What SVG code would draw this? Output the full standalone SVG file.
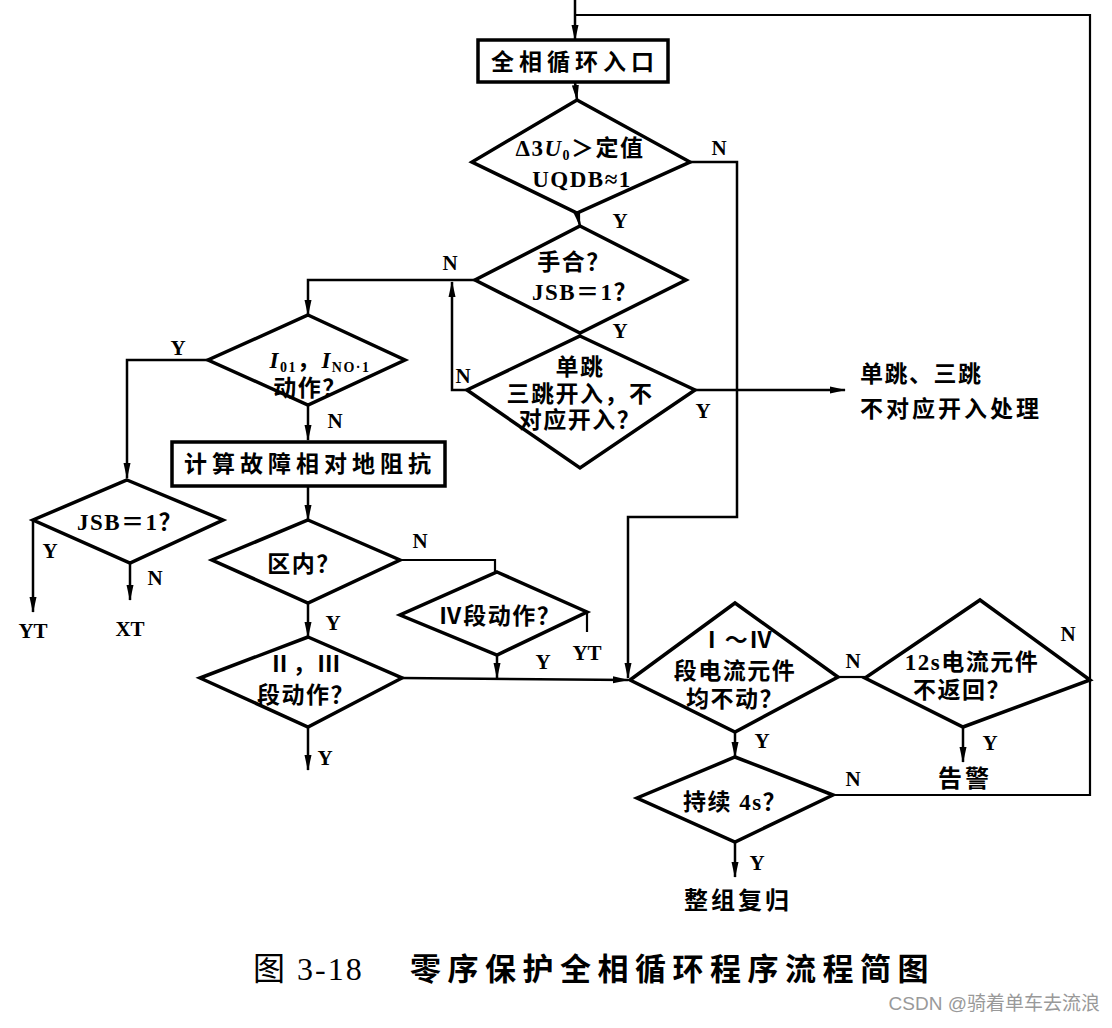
<svg xmlns="http://www.w3.org/2000/svg" width="1112" height="1028" viewBox="0 0 1112 1028">
<defs>
<marker id="ar" markerUnits="userSpaceOnUse" markerWidth="16" markerHeight="8" refX="15" refY="4" orient="auto">
<path d="M0,0.5 L16,4 L0,7.5 z" fill="#000"/>
</marker>
<style>
.d{fill:#fff;stroke:#000;stroke-width:3.5;stroke-linejoin:miter}
.b{fill:#fff;stroke:#000;stroke-width:3.5}
.c{fill:none;stroke:#000;stroke-width:2.2}
.a{fill:none;stroke:#000;stroke-width:2.5;marker-end:url(#ar)}
text{font-family:"Liberation Serif","Noto Sans CJK SC",serif;font-weight:bold;fill:#000;text-anchor:middle}
.t{font-size:23px;letter-spacing:1.5px}
.l{font-size:21px}
.r{font-size:24px;letter-spacing:3px}
.bx{font-size:23px;letter-spacing:5px}
</style>
</defs>
<rect width="1112" height="1028" fill="#fff"/>

<g id="connectors">
<line class="a" x1="575" y1="0" x2="575" y2="40"/>
<polyline class="c" points="833,795 1090,795 1090,15 576,15"/>
<line class="a" x1="575" y1="82" x2="577" y2="100"/>
<line class="a" x1="577" y1="213" x2="580" y2="226"/>
<line class="c" x1="580" y1="333" x2="580" y2="336"/>
<polyline class="a" points="475,280 308,280 308,315"/>
<polyline class="a" points="467,390 452,390 452,282"/>
<line class="a" x1="695" y1="390" x2="845" y2="390"/>
<polyline class="a" points="690,162 737,162 737,517 628,517 628,678"/>
<line class="a" x1="308" y1="405" x2="308" y2="440"/>
<polyline class="a" points="208,360 127,360 127,478"/>
<line class="a" x1="308" y1="486" x2="308" y2="520"/>
<line class="a" x1="33" y1="520" x2="33" y2="612"/>
<line class="a" x1="130" y1="563" x2="130" y2="600"/>
<polyline class="c" points="400,560 495,560 495,572"/>
<line class="a" x1="308" y1="603" x2="308" y2="637"/>
<line class="c" x1="587" y1="612" x2="587" y2="632"/>
<line class="a" x1="497" y1="655" x2="497" y2="678"/>
<line class="a" x1="402" y1="678" x2="628" y2="680"/>
<line class="a" x1="308" y1="727" x2="308" y2="770"/>
<line class="c" x1="838" y1="677" x2="865" y2="677"/>
<line class="a" x1="735" y1="732" x2="735" y2="757"/>
<line class="a" x1="963" y1="727" x2="963" y2="762"/>
<line class="a" x1="735" y1="842" x2="735" y2="877"/>
</g>

<g id="entry">
<rect class="b" x="478" y="40" width="190" height="42"/>
<text class="bx" x="575" y="70">全相循环入口</text>
</g>

<g id="d-u0">
<polygon class="d" points="577,100 690,162 577,213 472,162"/>
<text class="t" x="580" y="156">Δ3<tspan font-style="italic">U</tspan><tspan font-size="14" dy="4">0</tspan><tspan dy="-4">＞定值</tspan></text>
<text class="t" x="582" y="187">UQDB≈1</text>
</g>

<g id="d-shouhe">
<polygon class="d" points="580,226 686,280 580,333 475,280"/>
<text class="t" x="574" y="270">手合？</text>
<text class="t" x="585" y="300">JSB＝1？</text>
</g>

<g id="d-dantiao">
<polygon class="d" points="580,336 695,390 580,468 467,390"/>
<text class="t" x="580" y="375">单跳</text>
<text class="t" x="580" y="402">三跳开入，不</text>
<text class="t" x="580" y="428">对应开入？</text>
</g>

<g id="d-i01">
<polygon class="d" points="308,315 405,360 308,405 208,360"/>
<text class="t" x="320" y="368"><tspan font-style="italic">I</tspan><tspan font-size="14" dy="4">01</tspan><tspan dy="-4">，</tspan><tspan font-style="italic">I</tspan><tspan font-size="14" dy="4">NO·1</tspan></text>
<text class="t" x="310" y="396">动作？</text>
</g>

<g id="calc">
<rect class="b" x="172" y="442" width="273" height="44"/>
<text class="bx" x="310" y="472">计算故障相对地阻抗</text>
</g>

<g id="d-jsb">
<polygon class="d" points="127,480 223,520 130,563 33,520"/>
<text class="t" x="130" y="530">JSB＝1？</text>
</g>

<g id="d-qunei">
<polygon class="d" points="308,520 400,560 308,603 212,560"/>
<text class="t" x="304" y="572">区内？</text>
</g>

<g id="d-iv">
<polygon class="d" points="497,572 587,612 497,655 400,615"/>
<text class="t" x="500" y="624">Ⅳ段动作？</text>
</g>

<g id="d-ii">
<polygon class="d" points="308,637 402,678 308,727 200,678"/>
<text class="t" x="305" y="672">Ⅱ，Ⅲ</text>
<text class="t" x="306" y="703">段动作？</text>
</g>

<g id="d-i-iv">
<polygon class="d" points="735,603 838,677 735,732 630,680"/>
<text class="t" x="737" y="648">Ⅰ～Ⅳ</text>
<text class="t" x="735" y="679">段电流元件</text>
<text class="t" x="735" y="707">均不动？</text>
</g>

<g id="d-12s">
<polygon class="d" points="980,600 1090,680 963,727 865,678"/>
<text class="t" x="972" y="670">12s电流元件</text>
<text class="t" x="962" y="698">不返回？</text>
</g>

<g id="d-4s">
<polygon class="d" points="735,757 833,795 735,842 637,798"/>
<text class="t" x="735" y="810">持续 4s？</text>
</g>

<g id="labels">
<text class="l" x="719" y="155">N</text>
<text class="l" x="620" y="228">Y</text>
<text class="l" x="450" y="270">N</text>
<text class="l" x="620" y="338">Y</text>
<text class="l" x="463" y="383">N</text>
<text class="l" x="703" y="418">Y</text>
<text class="l" x="178" y="355">Y</text>
<text class="l" x="335" y="428">N</text>
<text class="l" x="50" y="558">Y</text>
<text class="l" x="155" y="585">N</text>
<text class="l" x="33" y="638">YT</text>
<text class="l" x="130" y="636">XT</text>
<text class="l" x="420" y="548">N</text>
<text class="l" x="333" y="630">Y</text>
<text class="l" x="543" y="669">Y</text>
<text class="l" x="587" y="660">YT</text>
<text class="l" x="325" y="765">Y</text>
<text class="l" x="853" y="668">N</text>
<text class="l" x="1068" y="641">N</text>
<text class="l" x="762" y="748">Y</text>
<text class="l" x="990" y="750">Y</text>
<text class="r" x="965" y="787">告警</text>
<text class="l" x="853" y="786">N</text>
<text class="l" x="757" y="870">Y</text>
<text class="r" x="738" y="909">整组复归</text>
<text class="t" x="860" y="382" style="text-anchor:start">单跳、三跳</text>
<text class="t" x="860" y="417" style="text-anchor:start;letter-spacing:3px">不对应开入处理</text>
</g>

<g id="caption">
<text x="253" y="980" style="text-anchor:start;font-size:32px;font-weight:normal;letter-spacing:2px">图 3-18</text>
<text x="410" y="980" style="text-anchor:start;font-size:31px;letter-spacing:6.5px">零序保护全相循环程序流程简图</text>
<text x="1100" y="1010" style="text-anchor:end;font-size:19px;font-weight:normal;fill:#999;font-family:'Liberation Sans','Noto Sans CJK SC',sans-serif">CSDN @骑着单车去流浪</text>
</g>
</svg>
